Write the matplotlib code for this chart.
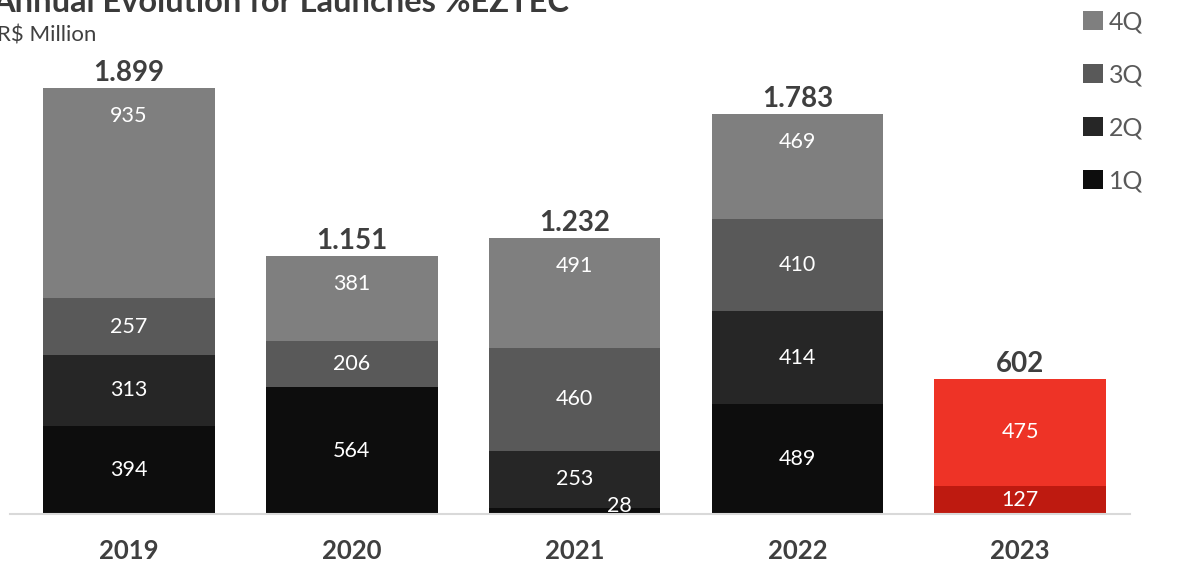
import numpy as np
import matplotlib.pyplot as plt
from matplotlib.patches import Patch

years = ['2019', '2020', '2021', '2022', '2023']
q1 = [394, 564, 28, 489, 127]
q2 = [313, 0, 253, 414, 475]
q3 = [257, 206, 460, 410, 0]
q4 = [935, 381, 491, 469, 0]
totals = ['1.899', '1.151', '1.232', '1.783', '602']
quarters = ['1Q', '2Q', '3Q', '4Q']

grays = ['#0d0d0d', '#262626', '#595959', '#7f7f7f']
reds = ['#be1a10', '#ee3326', '#ee3326', '#ee3326']  # 2023 highlighted in red

plt.rcParams['font.family'] = ['Lato', 'DejaVu Sans']

fig = plt.figure(figsize=(11.79, 5.62), dpi=100)
ax = fig.add_axes([10 / 1179, 48 / 562, 1120 / 1179, 514 / 562])

x = np.arange(len(years))
series = [q1, q2, q3, q4]
bottom = np.zeros(len(years))
for qi, vals in enumerate(series):
    vals = np.array(vals, dtype=float)
    cols = [reds[qi] if y == '2023' else grays[qi] for y in years]
    ax.bar(x, vals, bottom=bottom, width=0.77, color=cols, linewidth=0)
    for i, v in enumerate(vals):
        if v <= 0:
            continue
        if qi == 3:
            ypos = bottom[i] + v - 125  # 4Q labels near top of segment
        else:
            ypos = bottom[i] + v / 2
        xpos = x[i]
        if v < 60:
            xpos = x[i] + 0.2
            ypos = bottom[i] + v / 2 + 20
        ax.text(xpos, ypos, str(int(v)), ha='center', va='center',
                color='white', fontsize=15.5)
    bottom += vals

for i, t in enumerate(totals):
    ax.text(x[i], bottom[i] + 66, t, ha='center', va='center',
            fontsize=20, fontweight='bold', color='#3f3f3f')

ax.set_xlim(-0.534, 4.493)
ax.set_ylim(0, 2291)
ax.set_xticks(x)
ax.set_xticklabels(years, fontsize=18.5, fontweight='bold', color='#3f3f3f')
ax.tick_params(axis='x', length=0, pad=18)
ax.set_yticks([])
for s in ['top', 'left', 'right']:
    ax.spines[s].set_visible(False)
ax.spines['bottom'].set_color('#d9d9d9')
ax.spines['bottom'].set_linewidth(1.5)

fig.text(-8 / 1179, 1 - 12 / 562, 'Annual Evolution for Launches %EZTEC',
         fontsize=23.5, fontweight='bold', color='#3a3a3a', va='baseline', ha='left')
fig.text(-3 / 1179, 1 - 41 / 562, 'R$ Million', fontsize=16,
         color='#404040', va='baseline', ha='left')

handles = [Patch(facecolor=grays[i], edgecolor='none', label=quarters[i]) for i in [3, 2, 1, 0]]
fig.legend(handles=handles, loc='upper left', bbox_to_anchor=(1060 / 1179, 1 + 12 / 562),
           frameon=False, fontsize=18, labelcolor='#595959',
           handlelength=0.8, handleheight=0.8, handletextpad=0.25, labelspacing=1.2)

fig.savefig('out.png', dpi=100)
